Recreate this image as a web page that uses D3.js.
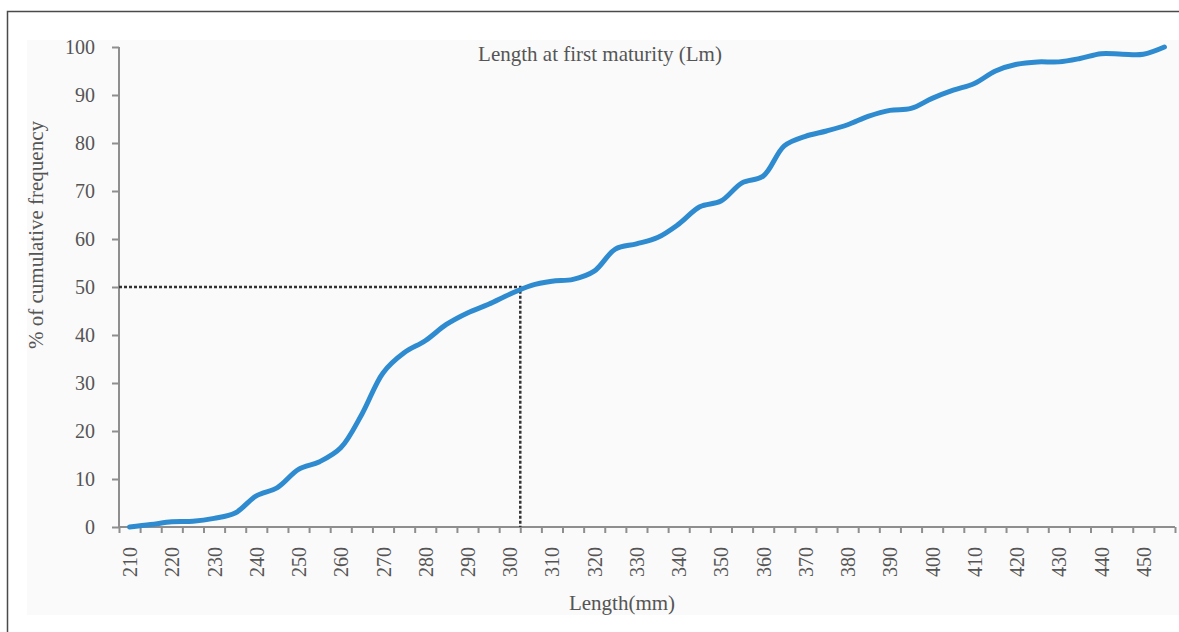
<!DOCTYPE html>
<html>
<head>
<meta charset="utf-8">
<script src="https://cdn.jsdelivr.net/npm/d3@7"></script>
<style>
  html, body { margin: 0; padding: 0; background: #ffffff; }
  svg { display: block; }
  text { font-family: "Liberation Serif", "DejaVu Serif", serif; }
</style>
</head>
<body>
<svg id="chart" width="1179" height="632"></svg>
<script>
// ---- data ----
const lengths = [210, 215, 220, 225, 230, 235, 240, 245, 250, 255,
                 260, 265, 270, 275, 280, 285, 290, 295, 300, 305,
                 310, 315, 320, 325, 330, 335, 340, 345, 350, 355,
                 360, 365, 370, 375, 380, 385, 390, 395, 400, 405,
                 410, 415, 420, 425, 430, 435, 440, 445, 450, 455];
const cumFreq = [0, 0.5, 1.1, 1.2, 1.8, 2.9, 6.5, 8.2, 12.0, 13.6,
                 16.5, 23.5, 32.1, 36.3, 38.8, 42.2, 44.6, 46.4, 48.5, 50.3,
                 51.2, 51.6, 53.3, 57.9, 59.0, 60.3, 63.1, 66.7, 67.9, 71.7,
                 73.1, 79.4, 81.4, 82.5, 83.8, 85.6, 86.8, 87.2, 89.3, 91.0,
                 92.4, 95.0, 96.4, 96.9, 96.9, 97.6, 98.6, 98.5, 98.5, 100];
const xLabels = [210, 220, 230, 240, 250, 260, 270, 280, 290, 300,
                 310, 320, 330, 340, 350, 360, 370, 380, 390, 400,
                 410, 420, 430, 440, 450];
const xTickBounds = [207.5, 212.5, 217.5, 222.5, 227.5, 232.5, 237.5, 242.5, 247.5, 252.5,
                     257.5, 262.5, 267.5, 272.5, 277.5, 282.5, 287.5, 292.5, 297.5, 302.5,
                     307.5, 312.5, 317.5, 322.5, 327.5, 332.5, 337.5, 342.5, 347.5, 352.5,
                     357.5, 362.5, 367.5, 372.5, 377.5, 382.5, 387.5, 392.5, 397.5, 402.5,
                     407.5, 412.5, 417.5, 422.5, 427.5, 432.5, 437.5, 442.5, 447.5, 452.5, 457.5];
const yTicks = [0, 10, 20, 30, 40, 50, 60, 70, 80, 90, 100];
const lmLength = 302.5;
const lmPercent = 50;
const titleText = "Length at first maturity (Lm)";
const xTitle = "Length(mm)";
const yTitle = "% of cumulative frequency";

// ---- drawing ----
const svg = d3.select("#chart");
const axisColor = "#8e8e8e";
const textColor = "#555555";

// plot background
svg.append("rect").attr("x", 27).attr("y", 40).attr("width", 1152).attr("height", 575)
  .attr("fill", "#fafafa");
// outer frame
svg.append("rect").attr("x", 7.5).attr("y", 11.5).attr("width", 1300).attr("height", 700)
  .attr("fill", "none").attr("stroke", "#4a4a4a").attr("stroke-width", 1.5);

const x = d3.scaleLinear().domain([207.5, 457.5]).range([119, 1175]);
const y = d3.scaleLinear().domain([0, 100]).range([527, 47]);

// y axis
const yAxis = svg.append("g").attr("transform", "translate(119,0)")
  .call(d3.axisLeft(y).tickValues(yTicks).tickSize(7).tickPadding(17).tickFormat(d3.format("d")));
yAxis.select(".domain").attr("stroke", axisColor).attr("stroke-width", 2)
  .attr("d", `M0,${y(100)}V${y(0)}`);
yAxis.selectAll(".tick line").attr("stroke", axisColor).attr("stroke-width", 2);
yAxis.selectAll(".tick text").attr("fill", textColor).style("font-size", "20px")
  .style("font-family", "'Liberation Serif', serif");

// x axis ticks (category boundaries)
const xAxis = svg.append("g").attr("transform", "translate(0,527)")
  .call(d3.axisBottom(x).tickValues(xTickBounds).tickSize(6).tickFormat(""));
xAxis.select(".domain").attr("stroke", axisColor).attr("stroke-width", 2)
  .attr("d", `M${x(207.5)},0H${x(457.5)}`);
xAxis.selectAll(".tick line").attr("stroke", axisColor).attr("stroke-width", 2);

// x axis labels (rotated)
const xLab = svg.append("g").attr("transform", "translate(0,527)")
  .call(d3.axisBottom(x).tickValues(xLabels).tickSize(0).tickFormat(d3.format("d")));
xLab.select(".domain").remove();
xLab.selectAll(".tick text")
  .attr("fill", textColor).style("font-size", "20px")
  .style("font-family", "'Liberation Serif', serif")
  .attr("text-anchor", "end")
  .attr("transform", "rotate(-90)")
  .attr("x", -20).attr("y", 0).attr("dy", "0.35em");

// Lm dotted guide lines
svg.append("path")
  .attr("d", `M${x(207.5)},${y(lmPercent)}H${x(lmLength)}V${y(0)}`)
  .attr("fill", "none").attr("stroke", "#333333").attr("stroke-width", 2.5)
  .attr("stroke-dasharray", "3,2");

// curve
const pts = lengths.map((l, i) => [l, cumFreq[i]]);
const line = d3.line().x(d => x(d[0])).y(d => y(d[1])).curve(d3.curveCatmullRom.alpha(0.5));
svg.append("path").datum(pts).attr("d", line)
  .attr("fill", "none").attr("stroke", "#2E8BD0").attr("stroke-width", 5)
  .attr("stroke-linecap", "round").attr("stroke-linejoin", "round");

// titles
svg.append("text").attr("x", 600).attr("y", 61).attr("text-anchor", "middle")
  .attr("fill", textColor).style("font-size", "21px").text(titleText);
svg.append("text").attr("x", 622).attr("y", 610).attr("text-anchor", "middle")
  .attr("fill", textColor).style("font-size", "21px").text(xTitle);
svg.append("text").attr("transform", "translate(43,235) rotate(-90)").attr("text-anchor", "middle")
  .attr("fill", textColor).style("font-size", "21px").text(yTitle);
</script>
</body>
</html>
